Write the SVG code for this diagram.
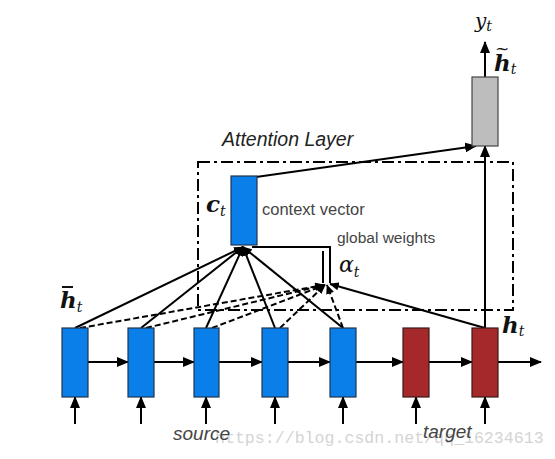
<svg xmlns="http://www.w3.org/2000/svg" width="555" height="459" viewBox="0 0 555 459">
<defs>
<style>
.blue{fill:#0a7fea;stroke:#1f3550;stroke-width:1.2}
.red{fill:#a5282a;stroke:#3a1a1a;stroke-width:1.2}
.gray{fill:#bdbdbd;stroke:#444;stroke-width:1.2}
.ln{stroke:#000;stroke-width:2;fill:none}
.dash{stroke:#000;stroke-width:2;fill:none;stroke-dasharray:6,3}
.dd{stroke:#000;stroke-width:2;fill:none;stroke-dasharray:12,4,3,4}
.lbl{font-family:"Liberation Sans",Arial,sans-serif;fill:#444}
.math{font-family:"DejaVu Serif","Liberation Serif",serif;font-style:italic;fill:#111}
.wm{font-family:"Liberation Mono",monospace;fill:#d4d4d4;font-size:16.6px}
</style>
<marker id="ah" viewBox="0 0 12 10" refX="11" refY="5" markerWidth="12" markerHeight="10" markerUnits="userSpaceOnUse" orient="auto">
<path d="M0,0 L12,5 L0,10 z" fill="#000"/>
</marker>
<marker id="ahs" viewBox="0 0 12 10" refX="11" refY="5" markerWidth="10" markerHeight="8" markerUnits="userSpaceOnUse" orient="auto">
<path d="M0,0 L12,5 L0,10 z" fill="#000"/>
</marker>
</defs>
<rect width="555" height="459" fill="#fff"/>

<text class="wm" x="215" y="443">https://blog.csdn.net/qq_16234613</text>

<rect class="dd" x="198" y="162" width="315" height="148"/>
<text class="lbl" x="222" y="146" font-size="19.5" font-style="italic" style="fill:#222">Attention Layer</text>

<g id="connectors">
<line class="ln" x1="88" y1="362" x2="128" y2="362" marker-end="url(#ah)"/>
<line class="ln" x1="154" y1="362" x2="194" y2="362" marker-end="url(#ah)"/>
<line class="ln" x1="219" y1="362" x2="262" y2="362" marker-end="url(#ah)"/>
<line class="ln" x1="288" y1="362" x2="330" y2="362" marker-end="url(#ah)"/>
<line class="ln" x1="356" y1="362" x2="403" y2="362" marker-end="url(#ah)"/>
<line class="ln" x1="429" y1="362" x2="472" y2="362" marker-end="url(#ah)"/>
<line class="ln" x1="498" y1="362" x2="541" y2="362" marker-end="url(#ah)"/>

<line class="ln" x1="75" y1="424" x2="75" y2="397" marker-end="url(#ah)"/>
<line class="ln" x1="141" y1="424" x2="141" y2="397" marker-end="url(#ah)"/>
<line class="ln" x1="206" y1="424" x2="206" y2="397" marker-end="url(#ah)"/>
<line class="ln" x1="275" y1="424" x2="275" y2="397" marker-end="url(#ah)"/>
<line class="ln" x1="343" y1="424" x2="343" y2="397" marker-end="url(#ah)"/>
<line class="ln" x1="416" y1="424" x2="416" y2="397" marker-end="url(#ah)"/>
<line class="ln" x1="485" y1="424" x2="485" y2="397" marker-end="url(#ah)"/>

<line class="ln" x1="485" y1="328" x2="485" y2="146" marker-end="url(#ah)"/>
<line class="ln" x1="485" y1="77" x2="485" y2="42" marker-end="url(#ah)"/>
<line class="ln" x1="256" y1="177" x2="476" y2="146" marker-end="url(#ah)"/>

<line class="ln" x1="75" y1="328" x2="243" y2="247" marker-end="url(#ahs)"/>
<line class="ln" x1="141" y1="328" x2="243" y2="247" marker-end="url(#ahs)"/>
<line class="ln" x1="206" y1="328" x2="243" y2="247" marker-end="url(#ahs)"/>
<line class="ln" x1="275" y1="328" x2="243" y2="247" marker-end="url(#ahs)"/>
<line class="ln" x1="343" y1="328" x2="243" y2="247" marker-end="url(#ahs)"/>

<line class="dash" x1="80" y1="328" x2="324" y2="285" marker-end="url(#ahs)"/>
<line class="dash" x1="146" y1="328" x2="324" y2="285" marker-end="url(#ahs)"/>
<line class="dash" x1="212" y1="328" x2="325" y2="285" marker-end="url(#ahs)"/>
<line class="dash" x1="280" y1="328" x2="325" y2="285" marker-end="url(#ahs)"/>
<line class="dash" x1="343" y1="328" x2="327" y2="285" marker-end="url(#ahs)"/>

<line class="ln" x1="485" y1="328" x2="330" y2="284" marker-end="url(#ahs)"/>

<path class="ln" d="M252 247 L330 247 L330 283"/>
<line class="ln" x1="323" y1="251" x2="323" y2="283"/>
</g>

<g id="src1"><rect class="blue" x="62" y="328" width="26" height="69"/></g>
<g id="src2"><rect class="blue" x="128" y="328" width="26" height="69"/></g>
<g id="src3"><rect class="blue" x="194" y="328" width="25" height="69"/></g>
<g id="src4"><rect class="blue" x="262" y="328" width="26" height="69"/></g>
<g id="src5"><rect class="blue" x="330" y="328" width="26" height="69"/></g>
<g id="tgt1"><rect class="red" x="403" y="328" width="26" height="69"/></g>
<g id="tgt2"><rect class="red" x="472" y="328" width="26" height="69"/></g>
<g id="ht-tilde"><rect class="gray" x="472" y="77" width="26" height="69"/></g>
<g id="ct"><rect class="blue" x="231" y="176" width="26" height="69"/></g>

<text class="lbl" x="262" y="215" font-size="16.5">context vector</text>
<text class="lbl" x="337" y="243" font-size="15.5">global weights</text>

<text class="math" x="475" y="28" font-size="20">y<tspan font-size="14" dy="3">t</tspan></text>
<text class="math" x="494" y="71" font-size="23" font-weight="bold">h<tspan font-size="14" font-weight="normal" dy="3">t</tspan></text>
<text class="math" x="495" y="54" font-size="17">~</text>

<text class="math" x="206" y="212" font-size="23" font-weight="bold">c<tspan font-size="14" font-weight="normal" dy="4">t</tspan></text>
<text class="math" x="339" y="272" font-size="22">α<tspan font-size="14" dy="5">t</tspan></text>

<text class="math" x="60" y="308" font-size="23" font-weight="bold">h<tspan font-size="14" font-weight="normal" dy="4">t</tspan></text>
<line x1="62" y1="287" x2="73" y2="287" stroke="#111" stroke-width="2"/>
<text class="math" x="502" y="333" font-size="23" font-weight="bold">h<tspan font-size="14" font-weight="normal" dy="3">t</tspan></text>

<text class="lbl" x="173" y="440" font-size="19" font-style="italic">source</text>
<text class="lbl" x="423" y="438" font-size="19" font-style="italic">target</text>
</svg>
